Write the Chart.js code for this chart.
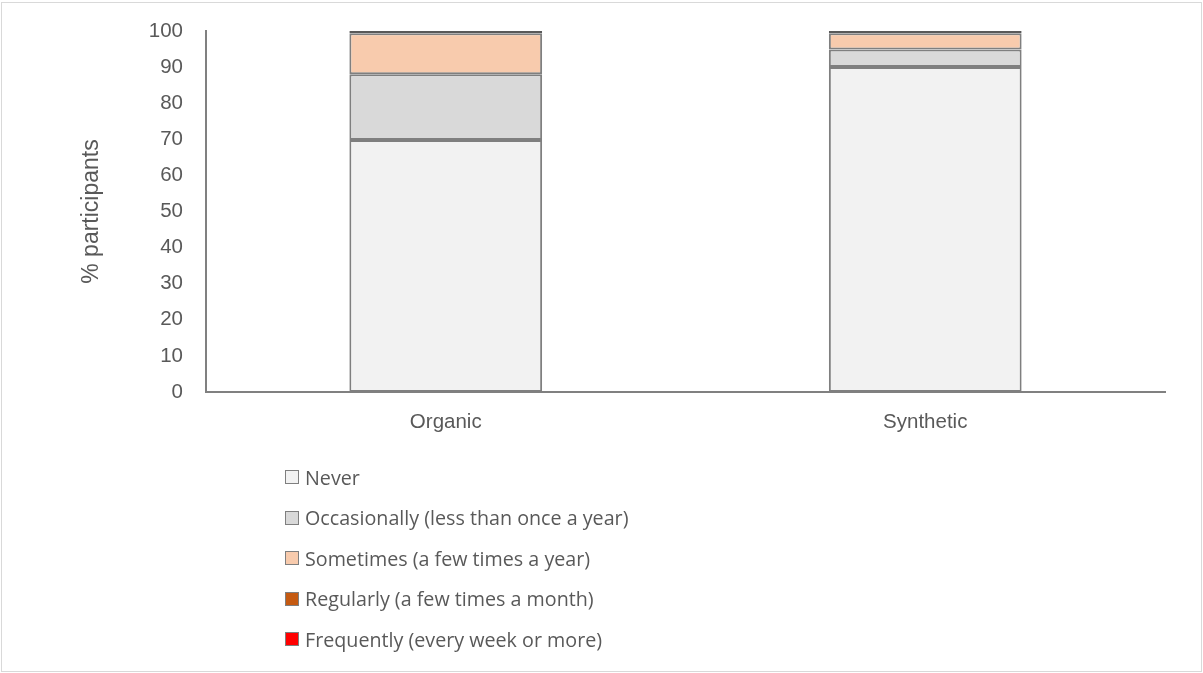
<!DOCTYPE html>
<html>
<head>
<meta charset="utf-8">
<script src="https://cdn.jsdelivr.net/npm/chart.js@4/dist/chart.umd.min.js"></script>
<style>
  html, body { margin: 0; padding: 0; background: #fff; }
  #wrap { position: relative; width: 1203px; height: 673px; }
  #frame { position: absolute; left: 1px; top: 2px; width: 1199px; height: 668px; border: 1px solid #d9d9d9; pointer-events: none; }
  canvas { position: absolute; left: 0; top: 0; }
  #legend { position: absolute; left: 285px; top: 457px; font-family: "Open Sans", "Noto Sans", sans-serif; font-size: 19.7px; color: #595959; }
  #legend .item { display: flex; align-items: center; height: 40.5px; }
  #legend .box { width: 12px; height: 12px; border: 1px solid #7f7f7f; margin-right: 6px; box-sizing: content-box; }
</style>
</head>
<body>
<div id="wrap">
  <canvas id="c" width="1203" height="673"></canvas>
  <div id="frame"></div>
  <div id="legend"></div>
</div>
<script>
// Frequency of use, % of participants per product type
const categories = ['Organic', 'Synthetic'];
const never = [69.8, 90.0];
const occasionally = [18.2, 4.9];
const sometimes = [11.4, 4.5];
const regularly = [0.6, 0.6];
const frequently = [0, 0];
const yTicks = [0, 10, 20, 30, 40, 50, 60, 70, 80, 90, 100];

const seriesNames = [
  'Never',
  'Occasionally (less than once a year)',
  'Sometimes (a few times a year)',
  'Regularly (a few times a month)',
  'Frequently (every week or more)'
];
const seriesValues = [never, occasionally, sometimes, regularly, frequently];
const seriesColors = ['#f2f2f2', '#d9d9d9', '#f8cbad', '#c55a11', '#ff0000'];

const tickFont = { family: '"Liberation Sans", Arial, sans-serif', size: 20.5 };
const textColor = '#595959';

const chart = new Chart(document.getElementById('c'), {
  type: 'bar',
  data: {
    labels: categories,
    datasets: seriesNames.map((name, i) => ({
      label: name,
      data: seriesValues[i],
      backgroundColor: seriesColors[i],
      borderColor: i >= 3 ? '#595959' : '#7f7f7f',
      borderWidth: 2,
      borderSkipped: false,
      categoryPercentage: 0.402,
      barPercentage: 1.0
    }))
  },
  options: {
    responsive: false,
    devicePixelRatio: 1,
    animation: false,
    layout: { padding: { left: 78, right: 38, top: 31, bottom: 221 } },
    plugins: {
      legend: { display: false },
      tooltip: { enabled: false }
    },
    scales: {
      x: {
        stacked: true,
        grid: { display: false, drawTicks: false },
        border: { display: true, color: '#808080', width: 2 },
        ticks: { font: tickFont, color: textColor, padding: 18 },
        afterFit: (s) => { s.height = 60; s.paddingLeft = 0; s.paddingRight = 0; }
      },
      y: {
        stacked: true,
        min: 0,
        max: 100,
        afterBuildTicks: (s) => { s.ticks = yTicks.map(v => ({ value: v })); },
        grid: { display: false, drawTicks: false },
        border: { display: true, color: '#808080', width: 2 },
        ticks: { font: tickFont, color: textColor, padding: 23 },
        title: {
          display: true,
          text: '% participants',
          font: { family: '"Liberation Sans", Arial, sans-serif', size: 23 },
          color: textColor,
          padding: { top: 0, bottom: 4 }
        },
        afterFit: (s) => { s.width = 128; s.paddingTop = 0; s.paddingBottom = 0; }
      }
    }
  }
});

// Vertical legend built from the chart's datasets
const legendEl = document.getElementById('legend');
chart.data.datasets.forEach(ds => {
  const item = document.createElement('div');
  item.className = 'item';
  const box = document.createElement('span');
  box.className = 'box';
  box.style.background = ds.backgroundColor;
  const label = document.createElement('span');
  label.textContent = ds.label;
  item.appendChild(box);
  item.appendChild(label);
  legendEl.appendChild(item);
});
</script>
</body>
</html>
